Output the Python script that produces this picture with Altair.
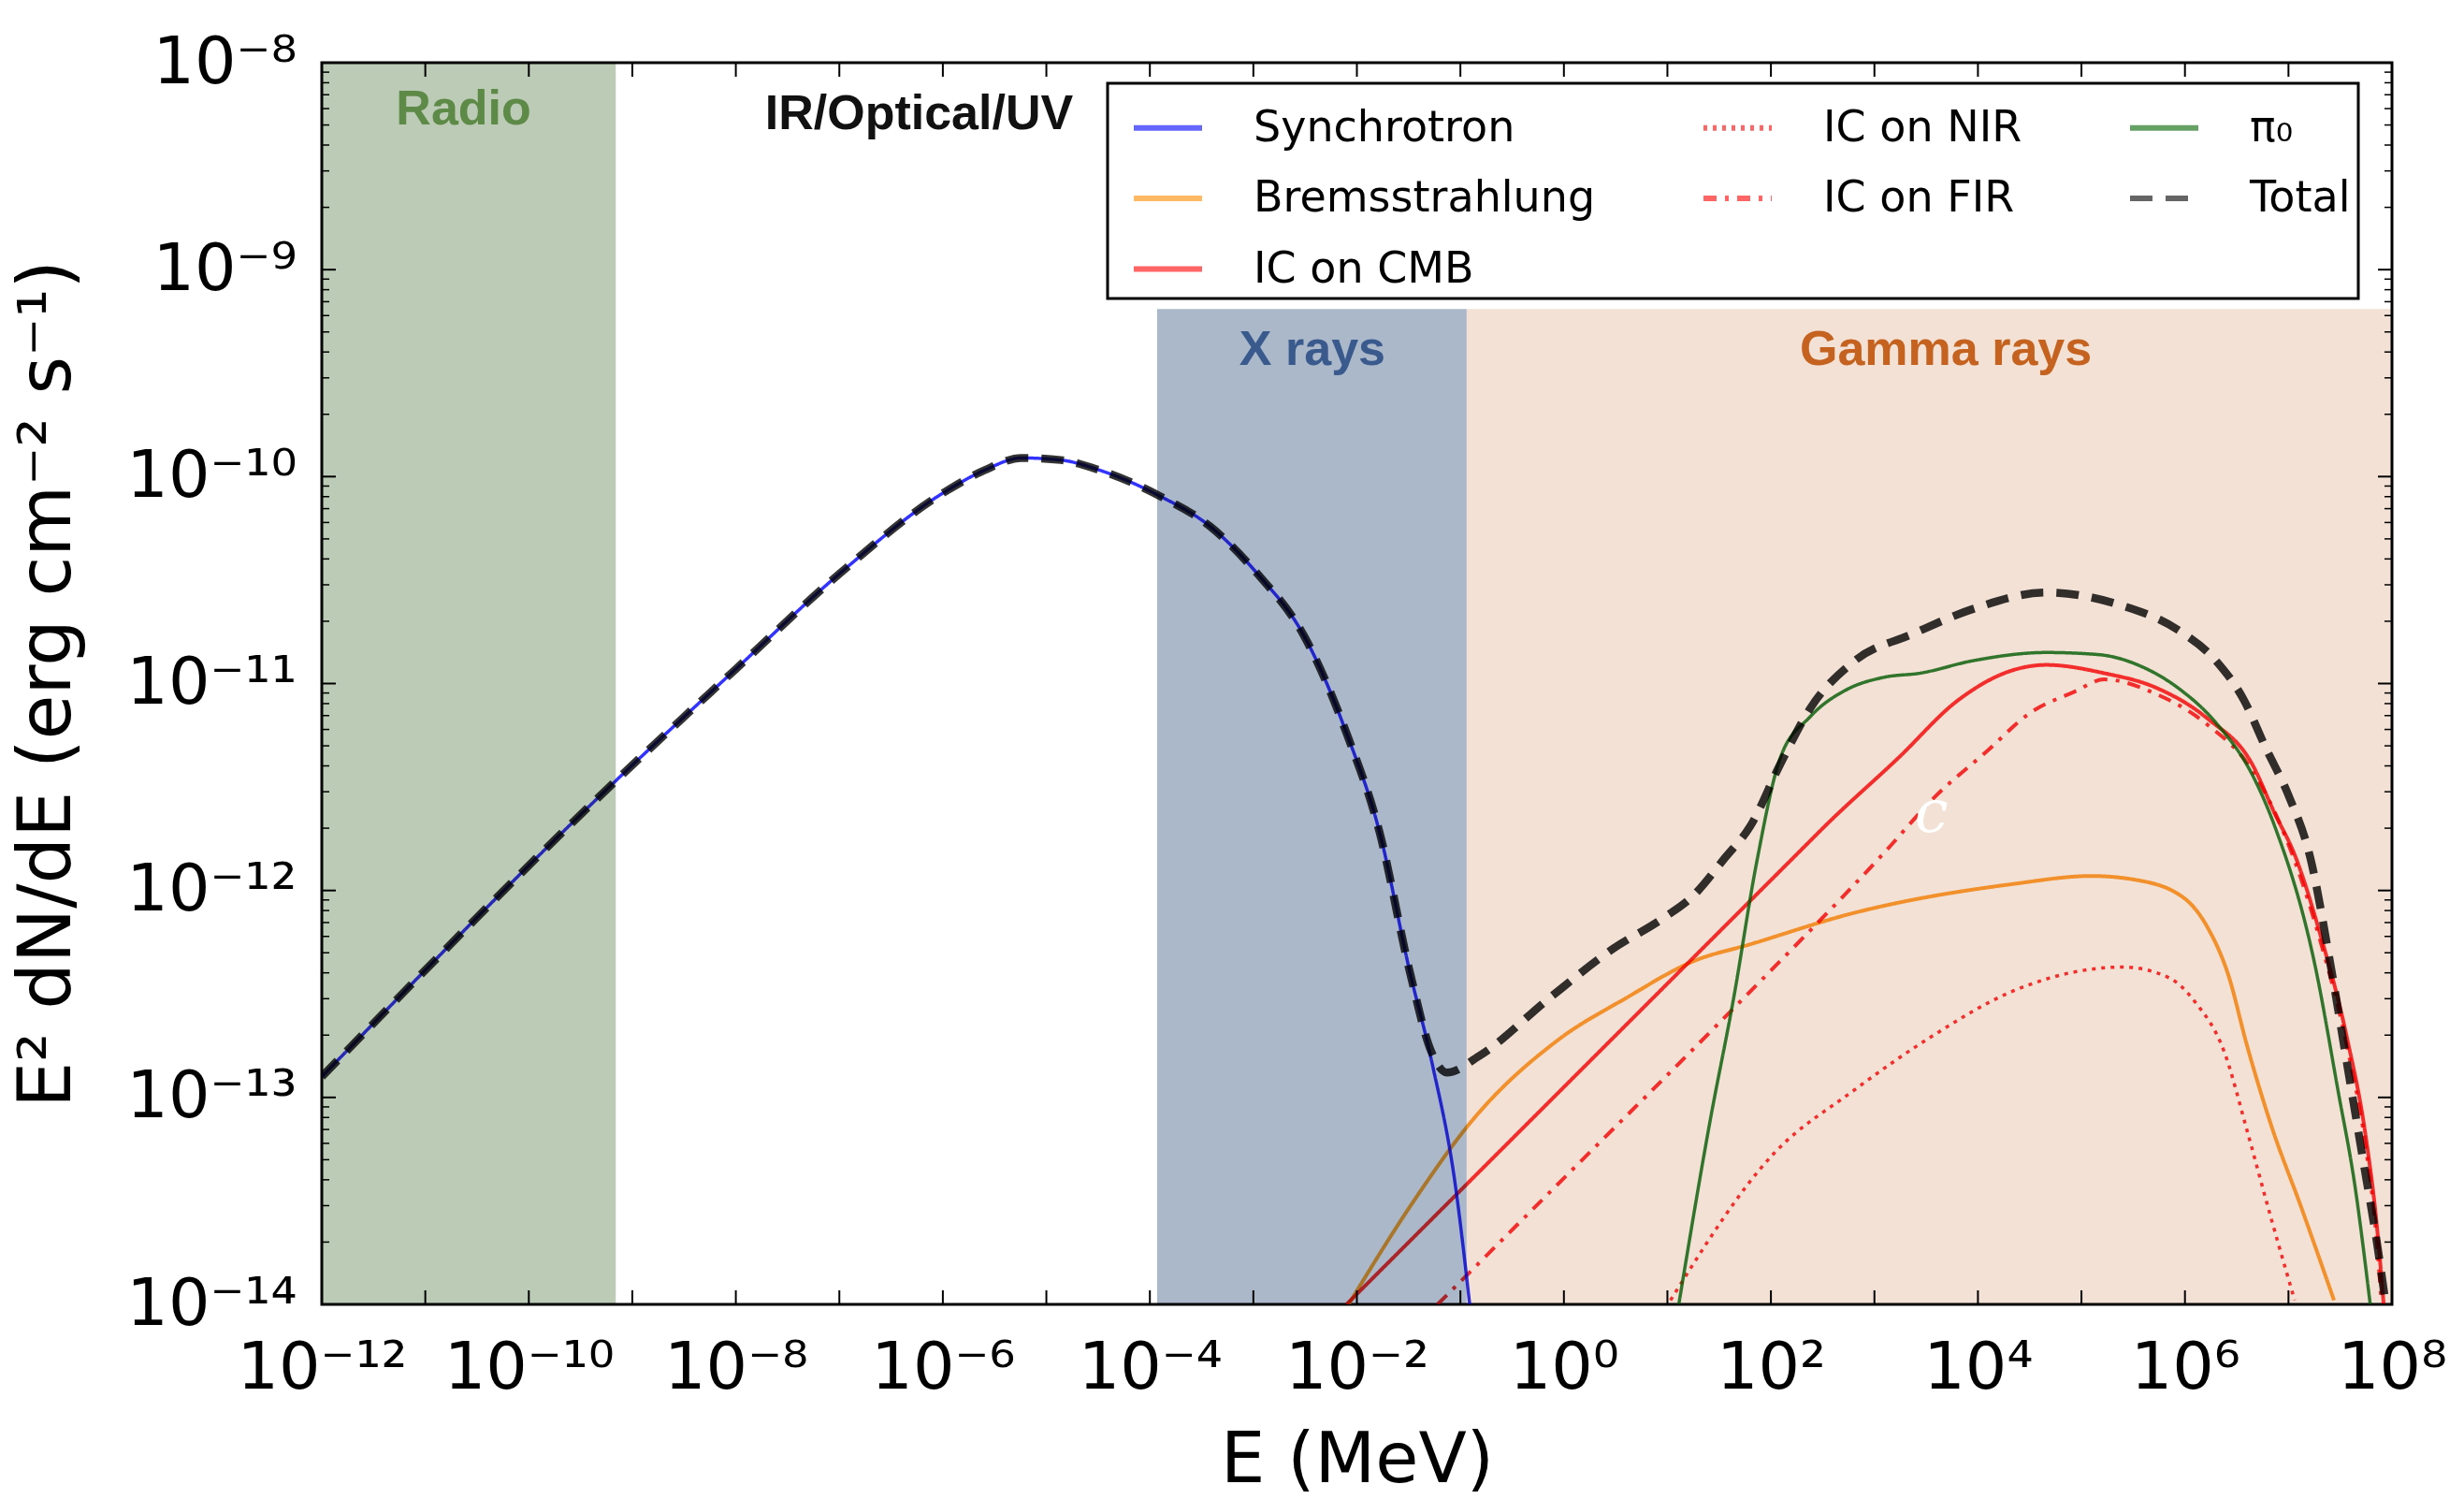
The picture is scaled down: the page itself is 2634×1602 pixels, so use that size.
import altair as alt
import pandas as pd

# ---------------- values ----------------
# log10(E / MeV)  and  log10(E^2 dN/dE / erg cm^-2 s^-1)
syn_logE = [-12.0, -9.16, -8.0, -7.0, -6.0, -5.6, -5.24, -4.86, -4.48, -3.92, -3.42, -2.96,
            -2.51, -2.10, -1.78, -1.49, -1.28, -1.05, -0.91]
syn_logF = [-12.90, -11.47, -10.93, -10.47, -10.08, -9.97, -9.91, -9.92, -9.97, -10.09, -10.24,
            -10.47, -10.77, -11.24, -11.72, -12.39, -12.82, -13.42, -14.0]

tot_logE = [-12.0, -9.16, -8.0, -7.0, -6.0, -5.6, -5.24, -4.86, -4.48, -3.92, -3.42, -2.96,
            -2.51, -2.10, -1.78, -1.49, -1.28, -1.13, -0.82, -0.14, 0.48, 0.94, 1.24, 1.56,
            1.80, 2.09, 2.38, 2.81, 3.37, 3.95, 4.66, 5.37, 5.93, 6.30, 6.57, 6.78, 7.00,
            7.21, 7.41, 7.56, 7.71, 7.86, 7.94]
tot_logF = [-12.90, -11.47, -10.93, -10.47, -10.08, -9.97, -9.91, -9.92, -9.97, -10.09, -10.24,
            -10.47, -10.77, -11.24, -11.72, -12.39, -12.78, -12.88, -12.80, -12.52, -12.28,
            -12.14, -12.03, -11.84, -11.69, -11.39, -11.12, -10.89, -10.76, -10.64, -10.56,
            -10.62, -10.74, -10.89, -11.08, -11.31, -11.54, -11.84, -12.37, -12.82, -13.27,
            -13.72, -14.0]

brm_logE = [-2.08, -1.45, -0.90, -0.05, 0.60, 1.26, 1.80, 2.79, 4.32, 5.10, 5.54, 6.00, 6.22,
            6.42, 6.60, 6.83, 7.13, 7.44]
brm_logF = [-14.0, -13.50, -13.12, -12.72, -12.52, -12.34, -12.26, -12.11, -11.97, -11.93,
            -11.95, -12.04, -12.18, -12.41, -12.75, -13.13, -13.54, -13.98]

cmb_logE = [-2.10, 0.0, 1.2, 2.34, 2.52, 3.23, 3.81, 4.31, 4.66, 5.22, 5.72, 6.22, 6.65, 6.86,
            7.07, 7.30, 7.56, 7.75, 7.85, 7.92]
cmb_logF = [-14.0, -12.95, -12.35, -11.78, -11.69, -11.36, -11.08, -10.94, -10.91, -10.95,
            -11.02, -11.17, -11.39, -11.62, -11.84, -12.20, -12.70, -13.20, -13.60, -14.0]

fir_logE = [-1.22, 0.0, 1.5, 3.09, 3.60, 4.08, 4.51, 4.93, 5.22, 5.72, 6.22, 6.65, 7.07, 7.30,
            7.56, 7.75, 7.84, 7.90]
fir_logF = [-14.0, -13.39, -12.64, -11.82, -11.54, -11.33, -11.14, -11.04, -10.98, -11.05,
            -11.20, -11.42, -11.87, -12.23, -12.74, -13.25, -13.62, -14.0]

nir_logE = [1.03, 2.03, 2.79, 3.57, 4.32, 5.10, 5.40, 5.84, 6.10, 6.38, 6.60, 6.83, 7.06]
nir_logF = [-13.98, -13.27, -12.97, -12.70, -12.49, -12.38, -12.37, -12.42, -12.54, -12.78,
            -13.16, -13.58, -13.98]

pi_logE = [1.11, 1.41, 1.64, 1.86, 2.09, 2.38, 2.73, 3.09, 3.44, 3.95, 4.66, 5.16, 5.59, 5.93,
           6.30, 6.66, 6.86, 7.26, 7.48, 7.64, 7.79]
pi_logF = [-14.0, -13.12, -12.52, -11.87, -11.36, -11.16, -11.03, -10.97, -10.95, -10.89,
           -10.85, -10.86, -10.92, -11.02, -11.19, -11.45, -11.68, -12.37, -12.97, -13.42, -14.0]

# energy bands: name, log10 E from/to, log10 flux top
band_names = ["Radio", "X rays", "Gamma rays"]
band_lo = [-12.0, -3.93, -0.94]
band_hi = [-9.16, -0.94, 8.0]
band_top = [-8.0, -9.19, -9.19]

# band captions: text, log10 E (centre), log10 flux (baseline)
cap_text = ["Radio", "IR/Optical/UV", "X rays", "Gamma rays"]
cap_logE = [-10.63, -6.23, -2.43, 3.69]
cap_logF = [-8.30, -8.32, -9.46, -9.46]

# stray white glyph inside the plot
mark_c_text = ["c"]
mark_c_logE = [3.55]
mark_c_logF = [-11.63]

# tick labels
x_label_exps = [-12, -10, -8, -6, -4, -2, 0, 2, 4, 6, 8]
x_tick_exps = list(range(-12, 9))
y_label_exps = [-14, -13, -12, -11, -10, -9, -8]
y_minor_mult = [2, 3, 4, 5, 6, 7, 8, 9]

# ---------------- styles ----------------
W, H = 2213, 1327
legend_order = ["Synchrotron", "IC on NIR", "π₀", "Bremsstrahlung", "IC on FIR", "Total", "IC on CMB"]
legend_colors = ["#0000ff", "#ff0000", "#006400", "#ff8c00", "#ff0000", "#000000", "#ff0000"]
legend_dashes = [[1, 0], [4, 6], [1, 0], [1, 0], [14, 9, 4, 9], [24, 14], [1, 0]]
line_widths = {"Synchrotron": 3.5, "IC on NIR": 3.5, "π₀": 3.5, "Bremsstrahlung": 4,
               "IC on FIR": 4, "Total": 8.5, "IC on CMB": 4}
band_colors = ["#bccbb5", "#aab8ca", "#f2e1d4"]
cap_colors = ["#5e8a48", "#111111", "#3a5a8e", "#c5621f"]

sup = str.maketrans("-0123456789", "⁻⁰¹²³⁴⁵⁶⁷⁸⁹")


def label_expr(exps):
    expr = "''"
    for e in reversed(exps):
        expr = f"round(log(datum.value)/LN10) == {e} ? '10{str(e).translate(sup)}' : " + expr
    return expr


# ---------------- tables ----------------
draw_order = [
    ("Bremsstrahlung", brm_logE, brm_logF),
    ("IC on NIR", nir_logE, nir_logF),
    ("IC on FIR", fir_logE, fir_logF),
    ("IC on CMB", cmb_logE, cmb_logF),
    ("π₀", pi_logE, pi_logF),
    ("Synchrotron", syn_logE, syn_logF),
    ("Total", tot_logE, tot_logF),
]
rows = []
for k, (name, le, lf) in enumerate(draw_order):
    for a, b in zip(le, lf):
        rows.append({"series": name, "E": 10 ** a, "F": 10 ** b, "w": line_widths[name], "k": k})
df = pd.DataFrame(rows)

xscale = alt.Scale(type="log", domain=[1e-12, 1e8], nice=False)
yscale = alt.Scale(type="log", domain=[1e-14, 1e-8], nice=False)

xaxis = alt.Axis(values=[10.0 ** e for e in x_label_exps], labelExpr=label_expr(x_label_exps),
                 ticks=False, domain=False, grid=False, labelFlush=False, labelLimit=500,
                 labelOverlap=False, labelFont="DejaVu Sans", labelFontSize=70,
                 labelColor="black", labelPadding=34, title="E (MeV)",
                 titleFont="DejaVu Sans", titleFontSize=75, titleFontWeight="normal",
                 titleColor="black", titlePadding=27)
yaxis = alt.Axis(values=[10.0 ** e for e in y_label_exps], labelExpr=label_expr(y_label_exps),
                 ticks=False, domain=False, grid=False, labelFlush=False, labelLimit=500,
                 labelOverlap=False, labelFont="DejaVu Sans", labelFontSize=70,
                 labelColor="black", labelPadding=27, labelAlign="right", labelBaseline="middle",
                 title="E² dN/dE (erg cm⁻² s⁻¹)", titleFont="DejaVu Sans", titleFontSize=78,
                 titleFontWeight="normal", titleColor="black", titlePadding=54,
                 titleLimit=2000)

leg = alt.Legend(title=None, orient="none", legendX=840, legendY=22, columns=3,
                 direction="horizontal",
                 symbolType="stroke", symbolSize=5329, symbolStrokeWidth=6, symbolOpacity=0.6,
                 symbolOffset=17, labelOffset=52, labelFont="DejaVu Sans", labelFontSize=46,
                 labelColor="black", labelLimit=700, columnPadding=95, rowPadding=12.5,
                 padding=8, fillColor="white", strokeColor="black", gridAlign="each")


def X(field):
    return alt.X(field, scale=xscale, axis=xaxis)


def Y(field):
    return alt.Y(field, scale=yscale, axis=yaxis)


lines = alt.Chart(df).mark_line(interpolate="monotone", clip=True, opacity=0.8).encode(
    x=X("E:Q"),
    y=Y("F:Q"),
    color=alt.Color("series:N", scale=alt.Scale(domain=legend_order, range=legend_colors),
                    legend=leg),
    strokeDash=alt.StrokeDash("series:N",
                              scale=alt.Scale(domain=legend_order, range=legend_dashes),
                              legend=leg),
    strokeWidth=alt.StrokeWidth("w:Q", scale=None, legend=None),
    order=alt.Order("k:Q"),
)

layers = [lines]

for i, name in enumerate(band_names):
    bdf = pd.DataFrame({"E": [10 ** band_lo[i]], "E1": [10 ** band_hi[i]],
                        "F": [1e-14], "F1": [10 ** band_top[i]]})
    layers.append(
        alt.Chart(bdf).mark_rect(color=band_colors[i], blend="multiply").encode(
            x=X("E:Q"), x2="E1:Q", y=Y("F:Q"), y2="F1:Q"))

for i, t in enumerate(cap_text):
    cdf = pd.DataFrame({"E": [10 ** cap_logE[i]], "F": [10 ** cap_logF[i]], "t": [t]})
    layers.append(
        alt.Chart(cdf).mark_text(font="Liberation Sans", fontWeight="bold", fontSize=52,
                                 color=cap_colors[i], align="center",
                                 baseline="alphabetic").encode(
            x=X("E:Q"), y=Y("F:Q"), text="t:N"))

mdf = pd.DataFrame({"E": [10 ** v for v in mark_c_logE], "F": [10 ** v for v in mark_c_logF],
                    "t": mark_c_text})
layers.append(
    alt.Chart(mdf).mark_text(font="DejaVu Serif", fontStyle="italic", fontSize=64,
                             color="white", align="center", baseline="middle").encode(
        x=X("E:Q"), y=Y("F:Q"), text="t:N"))

# inward ticks on all four sides
xt = pd.DataFrame({"E": [10.0 ** e for e in x_tick_exps]})
ym = pd.DataFrame({"F": [10.0 ** e for e in y_label_exps]})
yn = pd.DataFrame({"F": [m * 10.0 ** e for e in y_label_exps[:-1] for m in y_minor_mult]})

layers.append(alt.Chart(xt).mark_rule(color="black", strokeWidth=2).encode(
    x=X("E:Q"), y=alt.value(H), y2=alt.value(H - 15)))
layers.append(alt.Chart(xt).mark_rule(color="black", strokeWidth=2).encode(
    x=X("E:Q"), y=alt.value(0), y2=alt.value(15)))
layers.append(alt.Chart(ym).mark_rule(color="black", strokeWidth=2).encode(
    y=Y("F:Q"), x=alt.value(0), x2=alt.value(15)))
layers.append(alt.Chart(ym).mark_rule(color="black", strokeWidth=2).encode(
    y=Y("F:Q"), x=alt.value(W), x2=alt.value(W - 15)))
layers.append(alt.Chart(yn).mark_rule(color="black", strokeWidth=1.5).encode(
    y=Y("F:Q"), x=alt.value(0), x2=alt.value(8)))
layers.append(alt.Chart(yn).mark_rule(color="black", strokeWidth=1.5).encode(
    y=Y("F:Q"), x=alt.value(W), x2=alt.value(W - 8)))

chart = alt.layer(*layers).properties(
    width=W, height=H,
    autosize=alt.AutoSizeParams(type="none"),
    padding={"left": 344, "top": 67, "right": 77, "bottom": 208},
    background="white",
).configure_view(stroke="black", strokeWidth=3).configure_legend(strokeWidth=3)

chart.save("out.html", embed_options={"renderer": "svg", "actions": False})
